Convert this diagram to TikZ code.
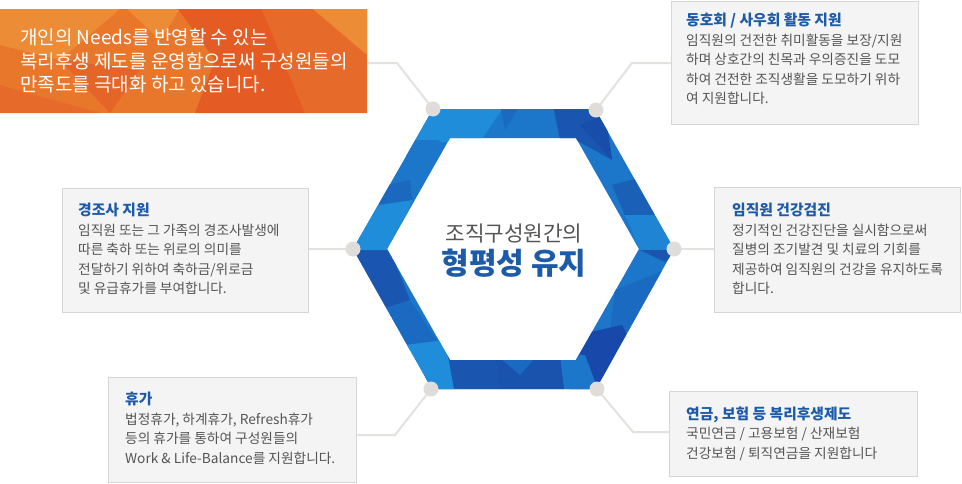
\documentclass[tikz,border=0pt]{standalone}
\usepackage{fontspec}
\setmainfont{Noto Sans CJK KR}
\definecolor{boxfill}{HTML}{F4F4F4}
\definecolor{boxline}{HTML}{D6D6D6}
\definecolor{connc}{HTML}{E4E2DF}
\definecolor{dotc}{HTML}{DFDCD9}
\definecolor{titleblue}{HTML}{1D5BA8}
\definecolor{bodygray}{HTML}{555555}
\definecolor{hbase}{HTML}{1C76CA}
\definecolor{hlight}{HTML}{1F8DD9}
\definecolor{hmid}{HTML}{1B6AC2}
\definecolor{hdark}{HTML}{1A56AF}
\definecolor{hdeep}{HTML}{1849AA}
\definecolor{obase}{HTML}{E8772C}
\definecolor{olight}{HTML}{EC8C37}
\definecolor{odark}{HTML}{E45C24}
\definecolor{omid}{HTML}{E66A29}
\tikzset{
  infobox/.style={draw=boxline, fill=boxfill, line width=1pt, inner sep=0pt, anchor=north west},
  conn/.style={draw=connc, line width=2pt},
  vdot/.style={circle, fill=dotc, inner sep=0pt, minimum size=15pt},
  boxtext/.style={anchor=base west, align=left, inner sep=0pt, text=bodygray, font=\fontsize{13.7}{19.5}\selectfont}
}
\newcommand{\ttlfmt}[1]{\textcolor{titleblue}{\fontsize{14.8}{19.5}\selectfont\bfseries #1}}
\begin{document}
\begin{tikzpicture}[x=1pt,y=-1pt]
\useasboundingbox[fill=white] (0,0) rectangle (962,483);

% ---------- orange box ----------
\begin{scope}
\clip (0,9) rectangle (367,113);
\fill[obase] (0,9) rectangle (367,113);
\fill[olight] (0,9) -- (120,9) -- (60,60) -- (0,45) -- cycle;
\fill[olight] (127,9) -- (180,9) -- (160,40) -- cycle;
\fill[odark] (178,9) -- (262,9) -- (305,113) -- (195,113) -- (215,60) -- cycle;
\fill[omid] (262,9) -- (367,9) -- (367,113) -- (305,113) -- cycle;
\fill[olight] (313,9) -- (367,9) -- (367,55) -- cycle;
\fill[omid] (0,85) -- (100,113) -- (0,113) -- cycle;
\fill[odark!70!obase] (60,60) -- (140,70) -- (110,113) -- cycle;
\end{scope}
\node[inner sep=0pt, minimum width=367pt, minimum height=104pt, anchor=north west] (orange) at (0,9) {};
\node[anchor=base west, align=left, inner sep=0pt, text=white, font=\fontsize{19}{23.3}\selectfont] (orangetext) at (20,91.5)
  {개인의 Needs를 반영할 수 있는\\복리후생 제도를 운영함으로써 구성원들의\\만족도를 극대화 하고 있습니다.};

% ---------- info boxes ----------
\node[infobox, minimum width=247pt, minimum height=123pt] (tr) at (671,1) {};
\node[infobox, minimum width=246pt, minimum height=124pt] (lb) at (62,188) {};
\node[infobox, minimum width=246pt, minimum height=125pt] (rb) at (714,187) {};
\node[infobox, minimum width=248pt, minimum height=105pt] (bl) at (108,377) {};
\node[infobox, minimum width=248pt, minimum height=85pt] (br) at (669,391) {};

\node[boxtext] (trt) at (686,103.5) {\ttlfmt{동호회 / 사우회 활동 지원}\\임직원의 건전한 취미활동을 보장/지원\\하며 상호간의 친목과 우의증진을 도모\\하여 건전한 조직생활을 도모하기 위하\\여 지원합니다.};
\node[boxtext] (lbt) at (78,293.5) {\ttlfmt{경조사 지원}\\임직원 또는 그 가족의 경조사발생에\\따른 축하 또는 위로의 의미를\\전달하기 위하여 축하금/위로금\\및 유급휴가를 부여합니다.};
\node[boxtext] (rbt) at (732,293.5) {\ttlfmt{임직원 건강검진}\\정기적인 건강진단을 실시함으로써\\질병의 조기발견 및 치료의 기회를\\제공하여 임직원의 건강을 유지하도록\\합니다.};
\node[boxtext] (blt) at (125,463) {\ttlfmt{휴가}\\법정휴가, 하계휴가, Refresh휴가\\등의 휴가를 통하여 구성원들의\\Work \& Life-Balance를 지원합니다.};
\node[boxtext] (brt) at (686,458) {\ttlfmt{연금, 보험 등 복리후생제도}\\국민연금 / 고용보험 / 산재보험\\건강보험 / 퇴직연금을 지원합니다};

% ---------- hexagon ----------
\begin{scope}[even odd rule]
\clip (353,249)--(433,109)--(595,109)--(674,249)--(596,389)--(432,389)--cycle
  (387,249)--(450,138)--(576,138)--(639,249)--(576,360)--(450,360)--cycle;
\fill[hbase] (340,100) rectangle (690,400);
% top band
\fill[hlight] (425,105) -- (505,105) -- (480,142) -- (415,142) -- cycle;
\fill[hmid] (500,105) -- (520,105) -- (505,130) -- cycle;
\fill[hdark] (553,105) -- (605,105) -- (612,160) -- (576,140) -- (560,140) -- cycle;
\fill[hdeep!70!hdark] (580,125) -- (605,115) -- (612,160) -- cycle;
% right upper band
\fill[hdark!70!hbase] (612,185) -- (650,175) -- (660,215) -- (625,215) -- cycle;
\fill[hlight!60!hbase] (625,215) -- (660,215) -- (680,250) -- (640,250) -- cycle;
% right lower band
\fill[hdark] (640,250) -- (680,250) -- (665,262) -- cycle;
\fill[hmid] (615,290) -- (665,270) -- (660,335) -- (610,330) -- cycle;
\fill[hdeep] (577,335) -- (622,325) -- (630,340) -- (600,395) -- (570,395) -- cycle;
% bottom band
\fill[hdark] (425,355) -- (495,355) -- (500,395) -- (425,395) -- cycle;
\fill[hdark!80!hdeep] (495,355) -- (560,355) -- (565,395) -- (500,395) -- cycle;
\fill[hmid] (500,358) -- (535,358) -- (520,375) -- cycle;
\fill[hbase] (560,355) -- (585,355) -- (600,395) -- (565,395) -- cycle;
% bottom-left band
\fill[hdark] (350,250) -- (390,250) -- (410,300) -- (380,310) -- (350,290) -- cycle;
\fill[hmid] (380,310) -- (410,300) -- (440,345) -- (405,350) -- cycle;
\fill[hlight] (405,345) -- (445,340) -- (455,395) -- (415,395) -- cycle;
% upper-left band
\fill[hlight] (350,210) -- (412,200) -- (395,250) -- (350,250) -- cycle;
\fill[hdark!40!hbase] (365,190) -- (410,180) -- (412,200) -- (358,207) -- cycle;
\fill[hbase] (400,140) -- (440,140) -- (415,180) -- cycle;
\end{scope}

% center text
\node[anchor=base, inner sep=0pt, text=bodygray, font=\fontsize{21.3}{26}\selectfont] (c1) at (514,241) {조직구성원간의};
\node[anchor=base, inner sep=0pt, text=titleblue, font=\fontsize{30}{36}\selectfont\bfseries] (c2) at (514,274) {형평성 유지};

% ---------- vertex positions ----------
\coordinate (vtl) at (433,109);
\coordinate (vtr) at (596,110);
\coordinate (vl) at (353,249);
\coordinate (vr) at (674,249);
\coordinate (vbl) at (431,389);
\coordinate (vbr) at (597,389);

% ---------- connectors ----------
\coordinate (k1) at (397,63);
\coordinate (k2) at (632,63);
\coordinate (k3) at (395,435);
\coordinate (k4) at (633,432);
\draw[conn] (orange.east |- k1) -- (k1) -- (vtl);
\draw[conn] (tr.west |- k2) -- (k2) -- (vtr);
\draw[conn] (lb.east |- vl) -- (vl);
\draw[conn] (rb.west |- vr) -- (vr);
\draw[conn] (bl.east |- k3) -- (k3) -- (vbl);
\draw[conn] (br.west |- k4) -- (k4) -- (vbr);

\node[vdot] (dtl) at (vtl) {};
\node[vdot] (dtr) at (vtr) {};
\node[vdot] (dl) at (vl) {};
\node[vdot] (dr) at (vr) {};
\node[vdot] (dbl) at (vbl) {};
\node[vdot] (dbr) at (vbr) {};
\end{tikzpicture}
\end{document}
